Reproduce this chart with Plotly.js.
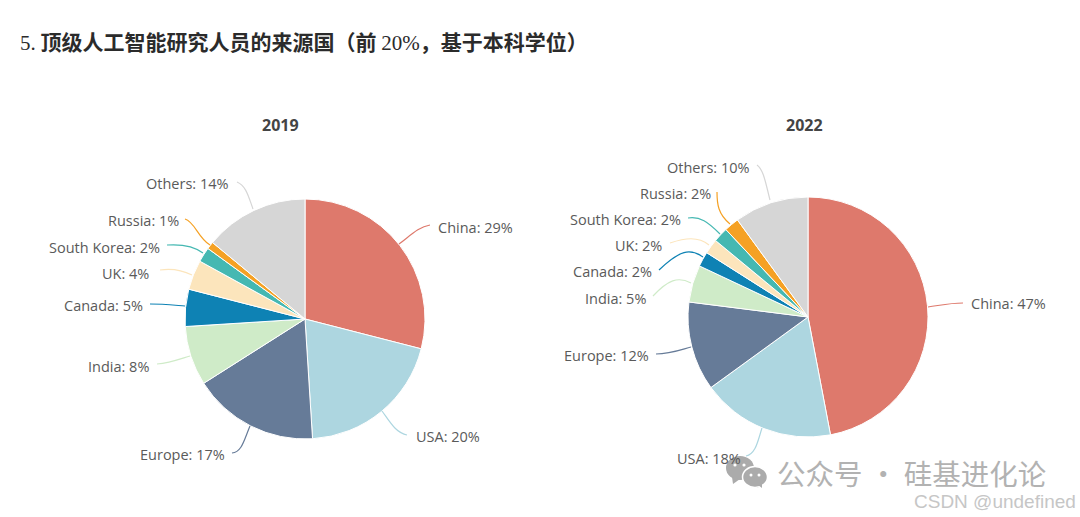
<!DOCTYPE html>
<html><head><meta charset="utf-8">
<script src="https://cdn.plot.ly/plotly-3.0.1.min.js"></script>
<style>html,body{margin:0;padding:0;background:#fff}#c{width:1080px;height:517px}</style>
</head><body><div id="c"></div>
<script>
const categories = ["China","USA","Europe","India","Canada","UK","South Korea","Russia","Others"];
const values2019 = [29,20,17,8,5,4,2,1,14];
const values2022 = [47,18,12,5,2,2,2,2,10];
const colors = ["#DE796C","#ADD6E0","#667B98","#CFEBC8","#0E82B4","#FCE5BC","#45B8B2","#F5A124","#D6D6D6"];
const W = 1080, H = 517;
const mainTitle = '<span style="font-family:\'Liberation Serif\',serif;font-weight:normal">5.</span> 顶级人工智能研究人员的来源国（前 <span style="font-family:\'Liberation Serif\',serif;font-weight:normal">20%</span>，基于本科学位）';

const labels2019 = [[436,227,"left"],[414,436,"left"],[227,454,"right"],[151,366,"right"],[145,305,"right"],[151,273,"right"],[162,247,"right"],[181,220,"right"],[230,183,"right"]];
const labels2022 = [[969,303,"left"],[675,458,"left"],[651,355,"right"],[648,298,"right"],[654,271,"right"],[664,245,"right"],[683,219,"right"],[713,193,"right"],[751,167,"right"]];
const leaders2019 = [
 "M399,244 C410,236 418,227 430,225","M382,411 C390,422 396,433 407,435","M250,426 C244,440 242,452 232,453",
 "M190,356 C180,359 170,363 157,364","M185,306 C172,305 162,304 150,304","M192,275 C182,270 172,268 160,270",
 "M203,253 C194,246 182,244 167,245","M210,245 C198,238 195,222 185,219","M253,209 C248,195 246,186 237,182"];
const leaders2022 = [
 "M928,307 C942,305 950,303 963,303","M762,428 C758,440 756,454 746,456","M691,347 C680,350 670,354 656,354",
 "M691,283 C678,276 668,280 653,296","M703,257 C690,248 680,250 659,270","M709,245 C698,236 685,238 670,243",
 "M720,234 C708,222 700,216 688,218","M730,224 C718,214 717,204 717,192","M770,200 C766,185 764,170 757,165"];

function pie(vals, cx, cy, r){
  return {type:"pie",labels:categories,values:vals,sort:false,direction:"clockwise",rotation:0,
    marker:{colors:colors,line:{color:"#ffffff",width:1}},textinfo:"none",hoverinfo:"label+percent",
    domain:{x:[(cx-r)/W,(cx+r)/W],y:[1-(cy+r)/H,1-(cy-r)/H]},showlegend:false};
}
const ann = [];
function txt(x,y,text,font,anchor){ann.push({x,y,xref:"x",yref:"y",text,showarrow:false,xanchor:anchor||"center",yanchor:"middle",font});}
const lf = {family:"'Open Sans',sans-serif",size:14.5,color:"#5a5a5a"};
[[labels2019,values2019],[labels2022,values2022]].forEach(([lab,vals])=>{
  lab.forEach((l,i)=>txt(l[0],l[1],categories[i]+": "+vals[i]+"%",lf,l[2]));
});
txt(18,41,mainTitle,{family:"'Noto Sans CJK SC',sans-serif",size:21,color:"#2b2b2b",weight:700},"left");
txt(280,125,"<b>2019</b>",{family:"'Open Sans',sans-serif",size:16,color:"#444"});
txt(804,125,"<b>2022</b>",{family:"'Open Sans',sans-serif",size:16,color:"#444"});
txt(775,472,"公众号 · 硅基进化论",{family:"'Noto Sans CJK SC',sans-serif",size:28.5,color:"#b2b2b2"},"left");
txt(1078,501,"CSDN @undefined",{family:"'Liberation Sans',Arial,sans-serif",size:19,color:"#c6c6c6"},"right");

const shapes = [];
function line(d,c){shapes.push({type:"path",path:d,xref:"x",yref:"y",line:{color:c,width:1.2},layer:"above"});}
leaders2019.forEach((d,i)=>line(d,colors[i]));
leaders2022.forEach((d,i)=>line(d,colors[i]));
function blob(cx,cy,rx,ry,c,lw){shapes.push({type:"circle",xref:"x",yref:"y",x0:cx-rx,x1:cx+rx,y0:cy-ry,y1:cy+ry,fillcolor:c,line:{color:"#fff",width:lw||0},layer:"above"});}
const wg="#ababab";
blob(740,468,14,12,wg);
shapes.push({type:"path",path:"M732,477 L733,484 L740,479 Z",xref:"x",yref:"y",fillcolor:wg,line:{width:0},layer:"above"});
blob(735,465,1.6,1.6,"#fff"); blob(744,465,1.6,1.6,"#fff");
blob(755,477,12.5,10.5,wg,1.5);
shapes.push({type:"path",path:"M758,485 L762,488 L762,483 Z",xref:"x",yref:"y",fillcolor:wg,line:{width:0},layer:"above"});
blob(751,475,1.5,1.5,"#fff"); blob(759,475,1.5,1.5,"#fff");

Plotly.newPlot("c",[pie(values2019,305,319,120),pie(values2022,808,317,120)],{
  width:W,height:H,margin:{l:0,r:0,t:0,b:0},paper_bgcolor:"#fff",plot_bgcolor:"rgba(0,0,0,0)",
  xaxis:{range:[0,W],visible:false,fixedrange:true},yaxis:{range:[H,0],visible:false,fixedrange:true},
  annotations:ann,shapes:shapes
},{displayModeBar:false,staticPlot:true});
</script></body></html>
